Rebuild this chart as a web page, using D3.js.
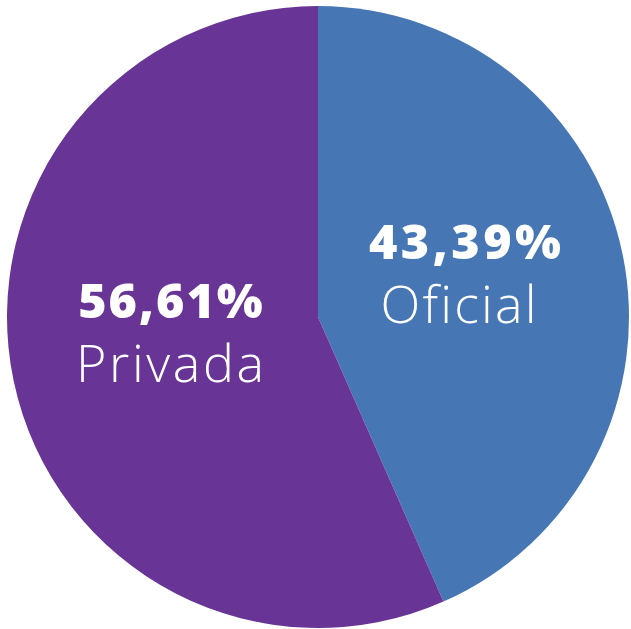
<!DOCTYPE html>
<html><head><meta charset="utf-8">
<script src="https://cdn.jsdelivr.net/npm/d3@7"></script>
<style>html,body{margin:0;padding:0;background:#fff;}svg{display:block;}</style>
</head><body>
<script>
const categories = ["Oficial", "Privada"];
const values = [43.39, 56.61];
const valueLabels = ["43,39%", "56,61%"];
const colors = ["#4676b4", "#683596"];

const W = 631, H = 629;
const cx = 318, cy = 317, R = 311;
const svg = d3.select("body").append("svg").attr("width", W).attr("height", H);
const g = svg.append("g").attr("transform", `translate(${cx},${cy})`);
const pie = d3.pie().sort(null).value(d => d.v);
const data = categories.map((c, i) => ({c, v: values[i], label: valueLabels[i], color: colors[i]}));
const arcs = pie(data);
const arc = d3.arc().innerRadius(0).outerRadius(R);
g.selectAll("path").data(arcs).join("path").attr("d", arc).attr("fill", d => d.data.color);

// label layout: [valueX, valueBaseline, nameX, nameBaseline, valueSpacing, nameSpacing]
const layout = [[147, -58, 140.5, 6, 3.5, 2.2], [-147.5, 1, -148, 65, 2, 2.6]];
arcs.forEach((a, i) => {
  const [vx, vy, nx, ny, vs, ns] = layout[i];
  g.append("text").attr("text-anchor", "middle").attr("fill", "#fff")
    .attr("font-family", "'Open Sans', sans-serif")
    .attr("x", vx + vs / 2).attr("y", vy)
    .attr("font-weight", 800).attr("font-size", 48.5).attr("letter-spacing", vs)
    .text(a.data.label);
  g.append("text").attr("text-anchor", "middle").attr("fill", "#fff")
    .attr("font-family", "'Open Sans', sans-serif")
    .attr("x", nx + ns / 2).attr("y", ny)
    .attr("font-weight", 300).attr("font-size", 52).attr("letter-spacing", ns)
    .text(a.data.c);
});
</script>
</body></html>
